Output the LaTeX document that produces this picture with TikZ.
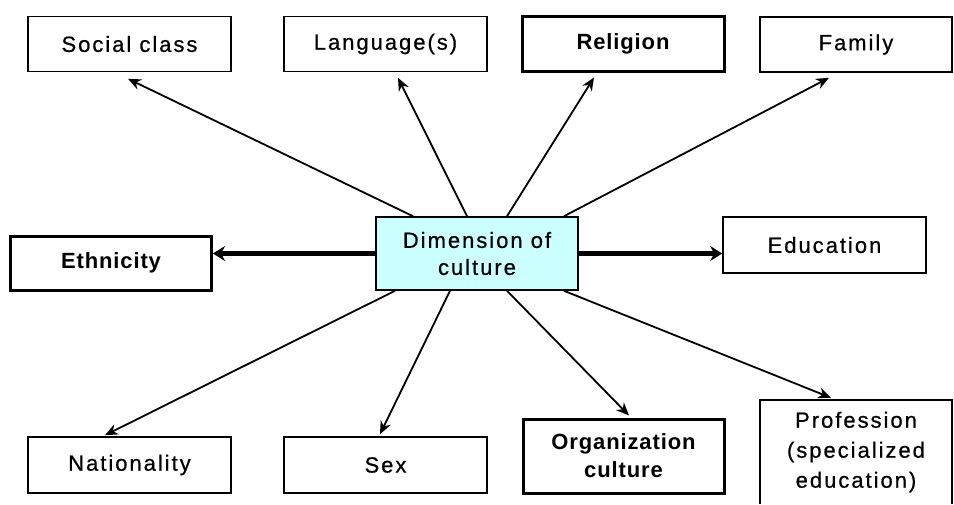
\documentclass[tikz,border=0pt]{standalone}
\usepackage{fontspec}
\setmainfont{Liberation Sans}[LetterSpace=9,FakeBold=0.6]
\newfontfamily\boldsans{Liberation Sans Bold}[LetterSpace=4]
\usetikzlibrary{arrows.meta,calc}
\definecolor{cenfill}{HTML}{CCFFFF}
\begin{document}
\begin{tikzpicture}[x=1pt,y=-1pt,
  box/.style={draw, line width=1.6pt, minimum width=203pt, minimum height=55pt, inner sep=0pt, align=center, font=\fontsize{22}{27}\selectfont},
  boldbox/.style={box, line width=3pt, font=\fontsize{22}{28}\boldsans},
  arr/.style={line width=1.8pt, -{Stealth[length=13pt,width=11pt]}},
  thickarr/.style={line width=5pt, -{Stealth[length=12pt,width=15pt]}}]
\useasboundingbox (0,0) rectangle (954,504);
\fill[white] (0,0) rectangle (954,504);
% top row
\node[box] (soc) at (129.5,44) {Social class};
\node[box] (lang) at (385.5,44) {Language(s)};
\node[boldbox, minimum width=202pt] (rel) at (623,44) {Religion};
\node[box, minimum width=192pt] (fam) at (856,44.5) {Family};
% middle row
\node[boldbox, minimum width=201pt, minimum height=54pt] (eth) at (111,263) {Ethnicity};
\node[box, fill=cenfill, minimum width=202pt, minimum height=73pt] (cen) at (477,253.5) {Dimension of\\culture};
\node[box, minimum height=56pt] (edu) at (824.5,245) {Education};
% bottom row
\node[box, minimum height=56pt] (nat) at (129.5,465) {Nationality};
\node[box, minimum height=56pt] (sex) at (385.5,465) {Sex};
\node[boldbox, minimum width=201pt, minimum height=74pt] (org) at (623.5,456) {Organization\\culture};
\node[minimum width=192pt, minimum height=104pt, inner sep=0pt, align=center, font=\fontsize{22}{30}\selectfont] (prof) at (856,452) {Profession\\(specialized\\education)};
\draw[line width=1.6pt] (prof.south west) |- (prof.north east) -- (prof.south east);
% connectors
\draw[arr] ($(cen.north)+(-64,0)$) -- ($(soc.south)+(-1.5,6.5)$);
\draw[arr] ($(cen.north)+(-10,0)$) -- ($(lang.south)+(12.5,5.5)$);
\draw[arr] ($(cen.north)+(30,0)$) -- ($(rel.south)+(-29,4.5)$);
\draw[arr] ($(cen.north)+(87,0)$) -- ($(fam.south)+(-27,5)$);
\draw[thickarr] (cen.west) -- (cen.west -| eth.east);
\draw[thickarr] (cen.east) -- (cen.east -| edu.west);
\draw[arr] ($(cen.south)+(-82,0)$) -- ($(nat.north)+(-24.5,-1)$);
\draw[arr] ($(cen.south)+(-27,0)$) -- ($(sex.north)+(-5.5,-2)$);
\draw[arr] ($(cen.south)+(30,0)$) -- ($(org.north)+(5.5,-2)$);
\draw[arr] ($(cen.south)+(87,0)$) -- ($(prof.north)+(-25,-2)$);
\end{tikzpicture}
\end{document}
